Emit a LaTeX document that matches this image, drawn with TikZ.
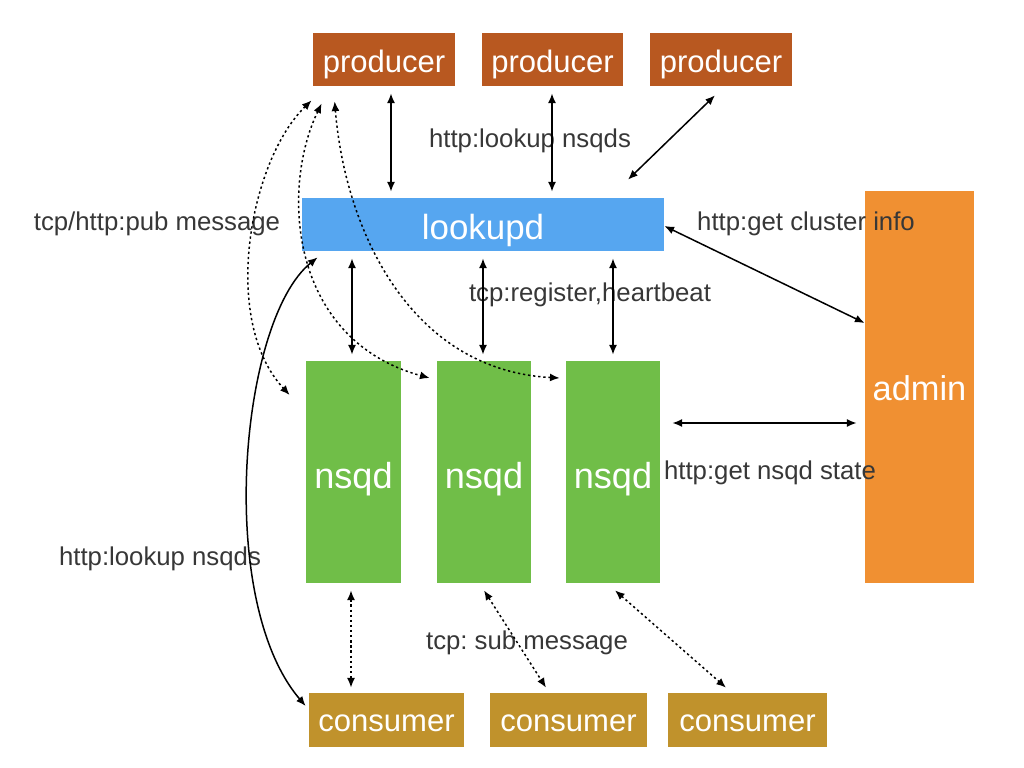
\documentclass[tikz,border=0pt]{standalone}
\usepackage{fontspec}
\setmainfont{Liberation Sans}
\frenchspacing
\usetikzlibrary{arrows.meta,calc}
\definecolor{prodc}{RGB}{184,88,32}
\definecolor{lookc}{RGB}{86,166,240}
\definecolor{adminc}{RGB}{240,144,50}
\definecolor{nsqdc}{RGB}{112,190,72}
\definecolor{consc}{RGB}{192,146,44}
\definecolor{labc}{RGB}{55,55,55}
\def\pxu{0.567pt}
\tikzset{
  box/.style={inner sep=0pt, text=white, draw=none},
  prodbox/.style={box, fill=prodc, minimum height=53*\pxu, text height=14.8pt, text depth=0pt, font=\fontsize{17.6}{20}\selectfont},
  consbox/.style={box, fill=consc, minimum height=54*\pxu, text height=12.7pt, text depth=0pt, font=\fontsize{17.6}{20}\selectfont},
  nsqdbox/.style={box, fill=nsqdc, minimum width=94*\pxu, minimum height=222*\pxu, text height=18.5pt, text depth=0pt, font=\fontsize{20.5}{24}\selectfont},
  lab/.style={text=labc, inner sep=0pt, font=\fontsize{14.6}{17}\selectfont},
  biarr/.style={line width=0.85pt, {Latex[length=5.5pt,width=4.5pt]}-{Latex[length=5.5pt,width=4.5pt]}},
  dotarr/.style={biarr, dash pattern=on 1.3pt off 1.6pt},
}
\begin{document}
\begin{tikzpicture}[x=0.567pt,y=-0.567pt]
\useasboundingbox (0,0) rectangle (1024,768);
% producers
\node[prodbox, minimum width=142*\pxu] (p1) at (384,59.5) {producer};
\node[prodbox, minimum width=141*\pxu] (p2) at (552.5,59.5) {producer};
\node[prodbox, minimum width=142*\pxu] (p3) at (721,59.5) {producer};
% lookupd
\node[box, fill=lookc, minimum width=362*\pxu, minimum height=53*\pxu, text height=17pt, text depth=0pt, font=\fontsize{19.8}{23}\selectfont] (lk) at (483,224.5) {lookupd};
% admin
\node[box, fill=adminc, minimum width=109*\pxu, minimum height=392*\pxu, text height=15.4pt, text depth=0pt, font=\fontsize{19.5}{23}\selectfont] (adm) at (919.5,387) {admin};
% nsqd
\node[nsqdbox, minimum width=95*\pxu] (n1) at (353.5,472) {nsqd};
\node[nsqdbox] (n2) at (484,472) {nsqd};
\node[nsqdbox] (n3) at (613,472) {nsqd};
% consumers
\node[consbox, minimum width=155*\pxu] (c1) at (386.5,720) {consumer};
\node[consbox, minimum width=157*\pxu] (c2) at (568.5,720) {consumer};
\node[consbox, minimum width=159*\pxu] (c3) at (747.5,720) {consumer};
% labels
\node[lab] (l1) at (530,141) {http:lookup nsqds};
\node[lab] (l2) at (157,224) {tcp/http:pub message};
\node[lab] (l3) at (806,224) {http:get cluster info};
\node[lab] (l4) at (590,295) {tcp:register,heartbeat};
\node[lab] (l5) at (770,473) {http:get nsqd state};
\node[lab] (l6) at (160,559) {http:lookup nsqds};
\node[lab] (l7) at (527,643) {tcp: sub message};
% producer <-> lookupd
\draw[biarr] ($(p1.south)+(7,7)$) -- ($(lk.north)+(-92,-6)$);
\draw[biarr] ($(p2.south)+(-0.5,7)$) -- ($(lk.north)+(69,-6)$);
\draw[biarr] ($(p3.south)+(-6,9)$) -- ($(lk.north)+(145,-18)$);
% lookupd <-> admin
\draw[biarr] ($(lk.east)+(0,1.5)$) -- ($(adm.west)+(0,-64)$);
% lookupd <-> nsqd
\draw[biarr] ($(lk.south)+(-131,7)$) -- ($(n1.north)+(-1.5,-6)$);
\draw[biarr] ($(lk.south)+(0,7)$) -- ($(n2.north)+(-1,-6)$);
\draw[biarr] ($(lk.south)+(130,7)$) -- ($(n3.north)+(0,-6)$);
% nsqd <-> admin
\draw[biarr] ($(n3.east)+(12,-49)$) -- ($(adm.west)+(-8,36)$);
% nsqd <-> consumer
\draw[dotarr] ($(n1.south)+(-2.5,7)$) -- ($(c1.north)+(-35.5,-5)$);
\draw[dotarr] ($(n2.south)+(0,7)$) -- ($(c2.north)+(-22.5,-5)$);
\draw[dotarr] ($(n3.south)+(2,7)$) -- ($(c3.north)+(-21.5,-5)$);
% producer -> nsqd curves
\draw[dotarr] ($(p1.south west)+(-1,14)$) .. controls (250,160) and (220,320) .. ($(n1.west)+(-16,-77)$);
\draw[dotarr] ($(p1.south west)+(9,17)$) .. controls (280,190) and (290,340) .. ($(n2.west)+(-7,-94)$);
\draw[dotarr] ($(p1.south west)+(22,15)$) .. controls (345,230) and (410,370) .. ($(n3.west)+(-6,-94)$);
% consumer <-> lookupd
\draw[biarr] ($(lk.south west)+(16,6)$) .. controls (240,320) and (215,600) .. ($(c1.west)+(-3,-14)$);
\end{tikzpicture}
\end{document}
